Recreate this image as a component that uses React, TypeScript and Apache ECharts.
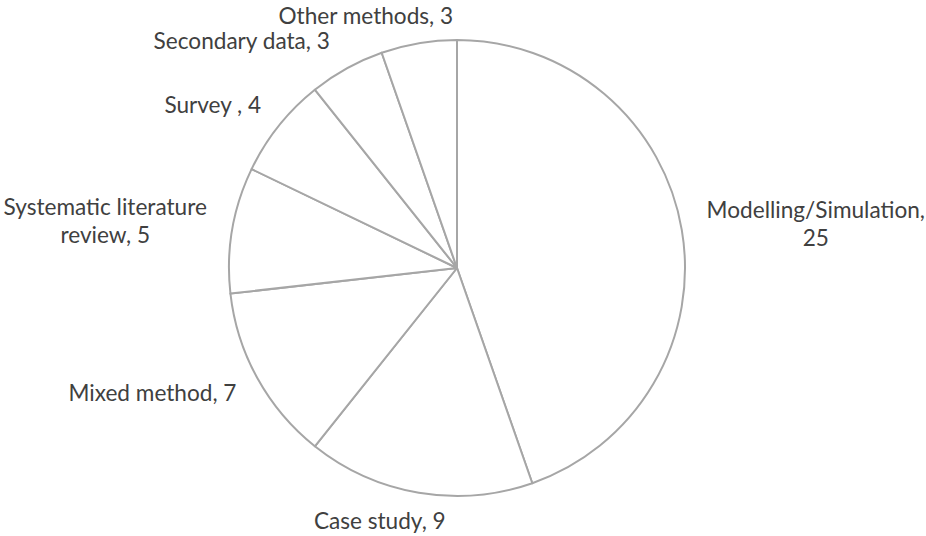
import React, { useEffect, useRef } from "react";
import * as echarts from "echarts";

// Research methods used across the reviewed studies
const categories = [
  "Modelling/Simulation",
  "Case study",
  "Mixed method",
  "Systematic literature\nreview",
  "Survey ",
  "Secondary data",
  "Other methods",
];
const counts = [25, 9, 7, 5, 4, 3, 3];

// Label nudges (px) from the rim point at each slice's mid-angle
const labelNudgeX = [134, -39, -105, -127, -66, -105, -53];
const labelNudgeY = [-6, 28, 14, -9, -21, -28, -28];

const CX = 457;
const CY = 268;
const R = 228;

export default function App() {
  const ref = useRef<HTMLDivElement>(null);

  useEffect(() => {
    if (!ref.current) return;
    const chart = echarts.init(ref.current, undefined, { renderer: "svg" });
    const total = counts.reduce((a, b) => a + b, 0);
    const midAngles: number[] = [];
    let acc = 0;
    counts.forEach((v) => {
      midAngles.push(((acc + v / 2) / total) * Math.PI * 2);
      acc += v;
    });

    chart.setOption({
      animation: false,
      backgroundColor: "#ffffff",
      series: [
        {
          type: "pie",
          center: [CX, CY],
          radius: R,
          startAngle: 90,
          clockwise: true,
          silent: true,
          itemStyle: {
            color: "#ffffff",
            borderColor: "#a6a6a6",
            borderWidth: 2,
          },
          label: {
            show: true,
            position: "outside",
            formatter: "{b}, {c}",
            color: "#404040",
            fontFamily: "Lato",
            fontSize: 22.6,
            lineHeight: 28,
            overflow: "none",
            width: 400,
          },
          labelLine: { show: false },
          labelLayout: (params: any) => {
            const i = params.dataIndex;
            const a = midAngles[i];
            return {
              x: CX + R * Math.sin(a) + labelNudgeX[i],
              y: CY - R * Math.cos(a) + labelNudgeY[i],
              align: "center",
              verticalAlign: "middle",
            };
          },
          data: categories.map((name, i) => ({
            name,
            value: counts[i],
            label: i === 0 ? { formatter: "{b},\n{c}" } : undefined,
          })),
        },
      ],
    });
    return () => chart.dispose();
  }, []);

  return (
    <div
      ref={ref}
      style={{ position: "absolute", left: 0, top: 0, width: 926, height: 536 }}
    />
  );
}
